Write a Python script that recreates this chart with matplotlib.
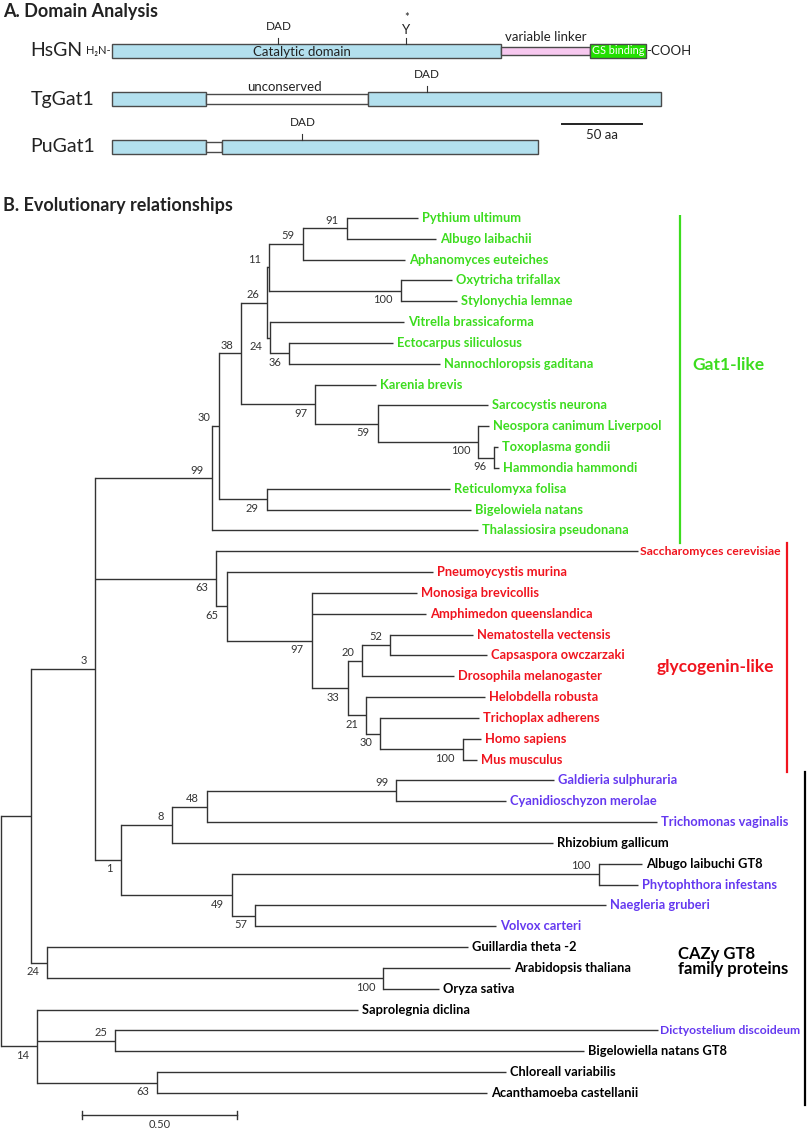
import matplotlib
matplotlib.use('Agg')
import matplotlib.pyplot as plt
from matplotlib.patches import Rectangle

plt.rcParams['font.family'] = ['Lato', 'DejaVu Sans']

# ---- panel A data (amino acids) ----
proteins = ['HsGN', 'TgGat1', 'PuGat1']
seg_start = [[0, 243, 299], [0, 59, 160], [0, 59, 69]]
seg_end = [[243, 299, 334], [59, 160, 343], [59, 69, 266]]
seg_kind = [['cat', 'linker', 'gs'], ['cat', 'uncons', 'cat'], ['cat', 'uncons', 'cat']]
dad_pos = [104, 197, 119]
tyr_pos = 184
scale_aa = 50

# ---- panel B data (newick, bootstrap as node labels) ----
gat1 = ("(((((((Pythium ultimum:0.229,Albugo laibachii:0.287)91:0.142,Aphanomyces euteiches:0.329)59:0.110,"
        "(Oxytricha trifallax:0.165,Stylonychia lemnae:0.181)100:0.426)11:0.006,"
        "(Vitrella brassicaforma:0.432,(Ectocarpus siliculosus:0.335,Nannochloropsis gaditana:0.487)36:0.061)24:0.010)26:0.084,"
        "(Karenia brevis:0.197,(Sarcocystis neurona:0.355,(Neospora canimum Liverpool:0.035,"
        "(Toxoplasma gondii:0.013,Hammondia hammondi:0.016)96:0.052)100:0.323)59:0.203)97:0.239)38:0.071,"
        "(Reticulomyxa folisa:0.590,Bigelowiela natans:0.658)29:0.155)30:0.023,Thalassiosira pseudonana:0.858)99:0.377")
glyco = ("(Saccharomyces cerevisiae:1.361,(Pneumoycystis murina:0.665,(Monosiga brevicollis:0.339,"
         "Amphimedon queenslandica:0.368,(((Nematostella vectensis:0.268,Capsaspora owczarzaki:0.313)52:0.090,"
         "Drosophila melanogaster:0.294)20:0.048,(Helobdella robusta:0.381,(Trichoplax adherens:0.319,"
         "(Homo sapiens:0.058,Mus musculus:0.045)100:0.265)30:0.045)21:0.061)33:0.116)97:0.274)65:0.035)63:0.390")
gt8_a = ("((((Galdieria sulphuraria:0.510,Cyanidioschyzon merolae:0.355)99:0.610,Trichomonas vaginalis:1.452)48:0.113,"
         "Rhizobium gallicum:1.229)8:0.165,((Albugo laibuchi GT8:0.139,Phytophthora infestans:0.126)100:1.184,"
         "(Naegleria gruberi:1.132,Volvox carteri:0.777)57:0.074)49:0.358)1:0.084")
gt8_b = "(Guillardia theta -2:1.358,(Arabidopsis thaliana:0.410,Oryza sativa:0.181)100:1.084)24:0.052"
gt8_c = ("(Saprolegnia diclina:1.035,(Dictyostelium discoideum:1.752,Bigelowiella natans GT8:1.513)25:0.252,"
         "(Chloreall variabilis:1.126,Acanthamoeba castellanii:1.065)63:0.387)14:0.116")
newick = "(((" + gat1 + "," + glyco + "," + gt8_a + ")3:0.206," + gt8_b + "):0.097," + gt8_c + ");"

blue_leaves = ['Galdieria sulphuraria', 'Cyanidioschyzon merolae', 'Trichomonas vaginalis',
               'Phytophthora infestans', 'Naegleria gruberi', 'Volvox carteri', 'Dictyostelium discoideum']
small_leaves = ['Saccharomyces cerevisiae', 'Dictyostelium discoideum']
groups = ['Gat1-like', 'glycogenin-like', 'CAZy GT8\nfamily proteins']
group_size = [16, 11, 16]
scale_len = 0.5

GREEN = '#3cdc1e'
RED = '#f0141e'
BLUE = '#6438f0'
LINE = '#333333'


def parse(s, i=0):
    node = {'children': [], 'label': '', 'len': 0.0}
    if s[i] == '(':
        i += 1
        while True:
            child, i = parse(s, i)
            node['children'].append(child)
            if s[i] == ',':
                i += 1
            else:
                i += 1
                break
    j = i
    while s[i] not in ':,);':
        i += 1
    node['label'] = s[j:i]
    if s[i] == ':':
        i += 1
        j = i
        while s[i] not in ',);':
            i += 1
        node['len'] = float(s[j:i])
    return node, i


tree, _ = parse(newick)
leaves = []


def layout(n, x0):
    n['x'] = x0 + n['len']
    if not n['children']:
        n['y'] = len(leaves)
        leaves.append(n)
    else:
        for c in n['children']:
            layout(c, n['x'])
        n['y'] = (n['children'][0]['y'] + n['children'][-1]['y']) / 2


tree['len'] = 0.0
layout(tree, 0.0)

leaf_color = {}
k = 0
for g, size in enumerate(group_size):
    for lf in leaves[k:k + size]:
        if g == 0:
            leaf_color[lf['label']] = GREEN
        elif g == 1:
            leaf_color[lf['label']] = RED
        else:
            leaf_color[lf['label']] = BLUE if lf['label'] in blue_leaves else 'black'
    k += size

W, H = 807, 1131
fig = plt.figure(figsize=(W / 100, H / 100), dpi=100)

# ================= panel A =================
axA = fig.add_axes([0, 1 - 190 / H, 1, 190 / H])
px_per_aa = 1.6
axA.set_xlim(-112 / px_per_aa, (W - 112) / px_per_aa)
axA.set_ylim(139 / 48, -51 / 48)
axA.axis('off')

fills = {'cat': '#b3e0ee', 'linker': '#f7c8ef', 'gs': '#22e000', 'uncons': 'white'}
heights = {'cat': 0.31, 'linker': 0.15, 'gs': 0.31, 'uncons': 0.21}
for r, name in enumerate(proteins):
    axA.text(-51, r, name, fontsize=14, va='center', ha='left', color='#222222')
    for s, e, kind in zip(seg_start[r], seg_end[r], seg_kind[r]):
        h = heights[kind]
        axA.add_patch(Rectangle((s, r - h / 2), e - s, h, facecolor=fills[kind],
                                edgecolor='#4a4a4a', lw=1.0, zorder=2))
    axA.plot([dad_pos[r], dad_pos[r]], [r - 0.155, r - 0.27], color='#333333', lw=0.8)
    axA.text(dad_pos[r], r - 0.5, 'DAD', fontsize=8.5, ha='center', va='center', color='#222222')

axA.text(-1, 0, 'H₂N-', fontsize=8, ha='right', va='center', color='#222222', family=['Lato', 'DejaVu Sans'])
axA.text(334, 0, '-COOH', fontsize=9.5, ha='left', va='center', color='#222222')
axA.text(119, 0.02, 'Catalytic domain', fontsize=9.5, ha='center', va='center', color='#222222')
axA.text(316.5, 0.0, 'GS binding', fontsize=7.8, ha='center', va='center', color='white', zorder=3)
axA.text(271, -0.29, 'variable linker', fontsize=9.5, ha='center', va='center', color='#222222')
axA.text(107.5, 1 - 0.25, 'unconserved', fontsize=9.5, ha='center', va='center', color='#222222')
axA.plot([tyr_pos, tyr_pos], [-0.155, -0.27], color='#333333', lw=0.8)
axA.text(tyr_pos, -0.44, 'Y', fontsize=9.5, ha='center', va='center', color='#222222')
axA.text(tyr_pos, -0.70, '*', fontsize=8, ha='center', va='center', color='#222222')
axA.plot([281, 281 + scale_aa], [1.52, 1.52], color='#222222', lw=1.4)
axA.text(281 + scale_aa / 2, 1.75, '50 aa', fontsize=9.5, ha='center', va='center', color='#222222')

fig.text(3 / W, 1 - 11 / H, 'A. Domain Analysis', fontsize=13, fontweight='bold', va='center', ha='left', color='#222222')
fig.text(3 / W, 1 - 206 / H, 'B. Evolutionary relationships', fontsize=13, fontweight='bold', va='center', ha='left', color='#222222')

# ================= panel B =================
top_px = 215
axB = fig.add_axes([0, 0, 1, (H - top_px) / H])
px_per_unit = 310.0
leaf_px = 20.833
axB.set_xlim(-1 / px_per_unit, (W - 1) / px_per_unit)
axB.set_ylim((H - 218) / leaf_px, (top_px - 218) / leaf_px)
axB.axis('off')

lab_dx = 4 / px_per_unit
boot_dx = 8 / px_per_unit


def draw(n):
    if not n['children']:
        small = n['label'] in small_leaves
        axB.text(n['x'] + (2 / px_per_unit if small else lab_dx), n['y'], n['label'],
                 fontsize=8.7 if small else 9.3, fontweight='bold',
                 color=leaf_color[n['label']], va='center', ha='left')
        return
    axB.plot([n['x'], n['x']], [n['children'][0]['y'], n['children'][-1]['y']], color=LINE, lw=1.0,
             solid_capstyle='projecting')
    for idx, c in enumerate(n['children']):
        axB.plot([n['x'], c['x']], [c['y'], c['y']], color=LINE, lw=1.0, solid_capstyle='butt')
        if c['children'] and c['label']:
            above = (idx == 0) or c['label'] == '25'
            dy = -0.4 if above else 0.43
            axB.text(c['x'] - boot_dx, c['y'] + dy, c['label'], fontsize=8, color='#333333',
                     ha='right', va='center')
        draw(c)


draw(tree)

# group bars and names
k = 0
bar_x = [(680 - 1) / px_per_unit, (787 - 1) / px_per_unit, (805 - 1) / px_per_unit]
bar_col = [GREEN, RED, 'black']
name_x = [(692 - 1) / px_per_unit, (657 - 1) / px_per_unit, (678 - 1) / px_per_unit]
name_y = [7.06, 21.55, 35.7]
for g, size in enumerate(group_size):
    y0 = k - 0.5 if g == 0 else k - 0.4
    y1 = k + size - 0.4
    axB.plot([bar_x[g], bar_x[g]], [y0, y1], color=bar_col[g], lw=1.6)
    axB.text(name_x[g], name_y[g], groups[g], fontsize=12.5 if g < 2 else 12,
             fontweight='bold', color=bar_col[g], ha='left', va='center', linespacing=0.95)
    k += size

# scale bar
sx0 = (82 - 1) / px_per_unit
sy = (1115 - 218) / leaf_px
axB.plot([sx0, sx0 + scale_len], [sy, sy], color=LINE, lw=1.0)
for xx in (sx0, sx0 + scale_len):
    axB.plot([xx, xx], [sy - 0.18, sy + 0.18], color=LINE, lw=1.0)
axB.text(sx0 + scale_len / 2, sy + 0.48, '%.2f' % scale_len, fontsize=8, color='#333333', ha='center', va='center')

fig.savefig('out.png', dpi=100)
